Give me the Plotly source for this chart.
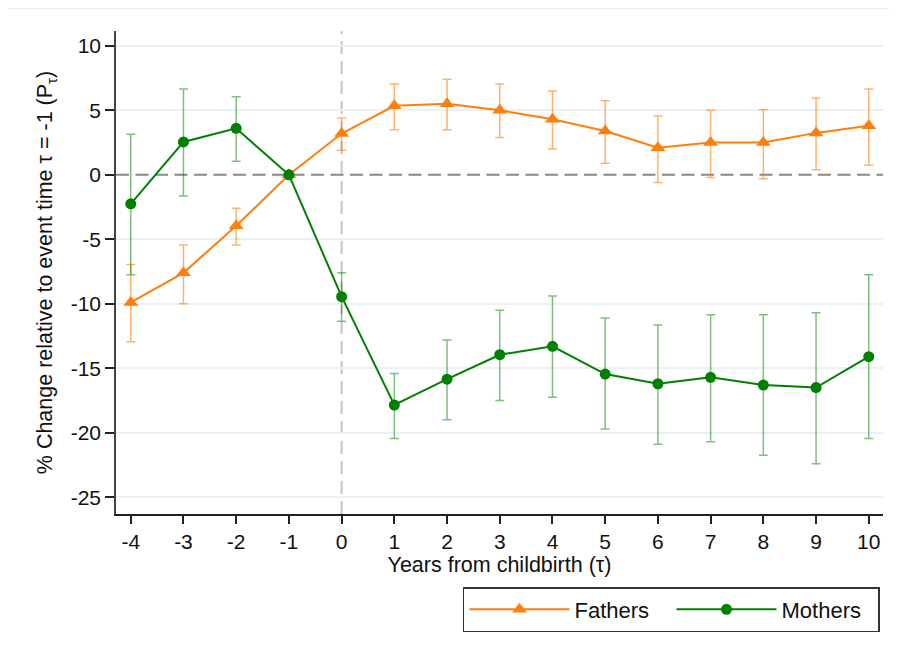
import plotly.graph_objects as go

years = [-4, -3, -2, -1, 0, 1, 2, 3, 4, 5, 6, 7, 8, 9, 10]

fathers = [-9.9, -7.6, -3.95, 0.0, 3.2, 5.35, 5.5, 5.0, 4.3, 3.4, 2.1, 2.5, 2.5, 3.25, 3.8]
fathers_hi = [-6.95, -5.45, -2.6, 0.0, 4.4, 7.05, 7.4, 7.05, 6.5, 5.75, 4.55, 5.0, 5.05, 5.95, 6.65]
fathers_lo = [-12.95, -10.0, -5.45, 0.0, 1.9, 3.5, 3.5, 2.9, 2.0, 0.9, -0.6, -0.2, -0.3, 0.4, 0.75]

mothers = [-2.25, 2.55, 3.6, 0.0, -9.45, -17.85, -15.85, -13.95, -13.3, -15.45, -16.2, -15.7, -16.3, -16.5, -14.1]
mothers_hi = [3.15, 6.65, 6.05, 0.0, -7.6, -15.4, -12.8, -10.5, -9.4, -11.1, -11.65, -10.85, -10.85, -10.7, -7.75]
mothers_lo = [-7.75, -1.65, 1.05, 0.0, -11.35, -20.45, -19.0, -17.5, -17.25, -19.7, -20.9, -20.7, -21.75, -22.4, -20.45]

y_ticks = [-25, -20, -15, -10, -5, 0, 5, 10]
y_grid = [v for v in y_ticks if v != 0]
x_ticks = years

ORANGE = "#ff7f0e"
GREEN = "#008000"
FONT = "Liberation Sans, Arial, sans-serif"

fig = go.Figure()

fig.add_trace(go.Scatter(
    x=years, y=fathers, name="Fathers", mode="lines+markers",
    line=dict(color=ORANGE, width=2),
    marker=dict(symbol="triangle-up", size=13, color=ORANGE),
    error_y=dict(type="data", symmetric=False,
                 array=[h - v for h, v in zip(fathers_hi, fathers)],
                 arrayminus=[v - l for v, l in zip(fathers, fathers_lo)],
                 color="rgba(255,127,14,0.6)", thickness=1.5, width=4.5),
))
fig.add_trace(go.Scatter(
    x=years, y=mothers, name="Mothers", mode="lines+markers",
    line=dict(color=GREEN, width=2),
    marker=dict(symbol="circle", size=11, color=GREEN),
    error_y=dict(type="data", symmetric=False,
                 array=[h - v for h, v in zip(mothers_hi, mothers)],
                 arrayminus=[v - l for v, l in zip(mothers, mothers_lo)],
                 color="rgba(0,128,0,0.5)", thickness=1.5, width=4.5),
))

fig.add_hline(y=0, line=dict(color="#888888", width=2, dash="13px,6.5px"), layer="below")
fig.add_vline(x=0, line=dict(color="#c4c4c4", width=2, dash="13px,7px"), layer="below")

# faint outer frame line at top
fig.add_shape(type="line", xref="paper", yref="paper", x0=-0.1395, x1=1.009,
              y0=1.0466, y1=1.0466, line=dict(color="#e6eeee", width=1.5))

fig.update_layout(
    width=889, height=646,
    margin=dict(l=108, r=14, t=23, b=140),
    paper_bgcolor="white", plot_bgcolor="white",
    font=dict(family=FONT, color="#111111", size=21),
    showlegend=True,
    legend=dict(
        orientation="h", xref="container", yref="container",
        x=0.5118, y=0.1037, xanchor="left", yanchor="top",
        bordercolor="#333333", borderwidth=1.5, bgcolor="white",
        font=dict(size=22, family=FONT), entrywidth=92, itemwidth=100,
    ),
    xaxis=dict(
        range=[-4.28, 10.27], tickmode="array", tickvals=x_ticks,
        ticktext=[str(v) for v in x_ticks],
        showgrid=False, zeroline=False,
        showline=True, linecolor="#222222", linewidth=1.5,
        ticks="outside", ticklen=8, tickcolor="#222222", tickwidth=1.5,
        tickfont=dict(size=21),
        title=dict(text="Years from childbirth (τ)", font=dict(size=21.5), standoff=2),
    ),
    yaxis=dict(
        range=[-26.3, 11.15], tickmode="array", tickvals=y_ticks,
        ticktext=[str(v) for v in y_ticks],
        showgrid=False, zeroline=False,
        minor=dict(tickmode="array", tickvals=y_grid, showgrid=True,
                   gridcolor="#eaf1f2", gridwidth=1.5, ticks=""),
        showline=True, linecolor="#444444", linewidth=1.5,
        ticks="outside", ticklen=9, tickcolor="#222222", tickwidth=1.5,
        tickfont=dict(size=21),
        title=dict(text="% Change relative to event time τ = -1 (P<sub>τ</sub>)",
                   font=dict(size=21.5), standoff=12),
    ),
)

fig.write_html("out.html")
